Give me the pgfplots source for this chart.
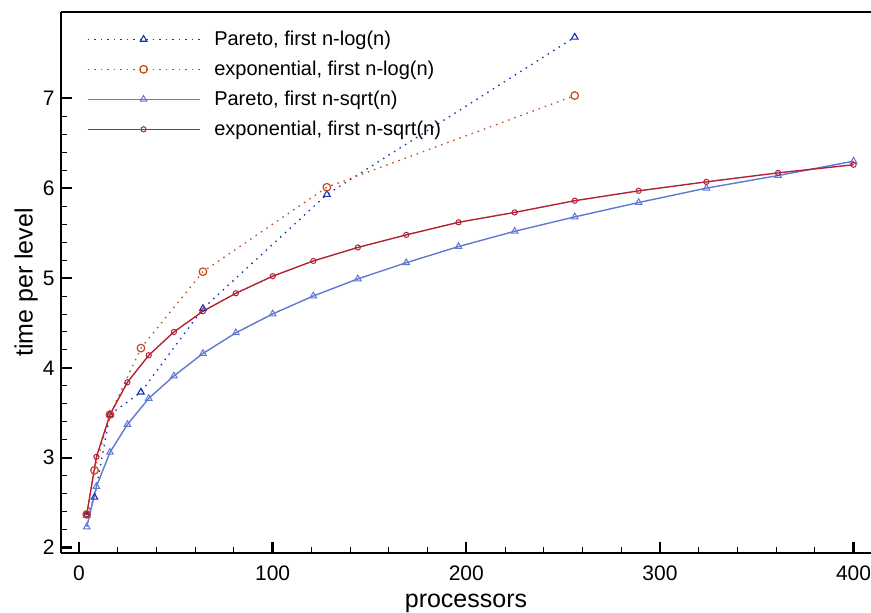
\documentclass[border=0pt]{standalone}
\usepackage{pgfplots}
\pgfplotsset{compat=1.18}
\usepackage{fontspec}
\setmainfont{Liberation Sans}
\definecolor{pdark}{RGB}{20,50,180}
\definecolor{eorange}{RGB}{200,70,30}
\definecolor{plight}{RGB}{95,120,212}
\definecolor{ered}{RGB}{178,34,52}
\begin{document}
\begin{tikzpicture}[x=1pt,y=1pt]
\begin{axis}[
  name=ax,
  at={(0,0)}, anchor=south west,
  scale only axis,
  width=810pt, height=541pt,
  xmin=-9.3, xmax=409, ymin=1.94, ymax=7.96,
  xtick={0,100,200,300,400},
  ytick={2,3,4,5,6,7},
  minor x tick num=4,
  minor y tick num=4,
  tick pos=left,
  tick align=inside,
  major tick length=11pt,
  minor tick length=6pt,
  every major tick/.style={line width=2.4pt, black},
  every minor tick/.style={line width=0.9pt, black},
  axis line style={line width=2.6pt},
  axis x line*=bottom,
  axis y line*=left,
  clip=false,
  /pgf/number format/assume math mode=true,
  ticklabel style={font=\fontsize{21}{23}\selectfont},
  xticklabel style={yshift=-9pt},
  yticklabel style={xshift=-3pt},
  xlabel={processors},
  ylabel={time per level},
  label style={font=\fontsize{25}{27}\selectfont},
  xlabel style={yshift=-7pt},
  ylabel style={yshift=-2pt},
  legend style={draw=none, fill=none, at={(0.028,0.972)}, anchor=north west,
    font=\fontsize{20}{22}\selectfont, row sep=10pt,
    /tikz/every odd column/.append style={column sep=12pt}},
  legend cell align=left,
  legend image code/.code={
    \draw[mark repeat=2,mark phase=2] plot coordinates {(0pt,0pt) (56pt,0pt) (112pt,0pt)};
  },
]
\addplot[pdark, line width=1.3pt, dash pattern=on 1.5pt off 5pt, mark=triangle, mark size=3.8pt, mark options={solid, line width=1.1pt}]
  coordinates {(4,2.36) (8,2.56) (16,3.48) (32,3.73) (64,4.66) (128,5.93) (256,7.68)};
\addlegendentry{Pareto, first n-log(n)}
\addplot[eorange, line width=1.3pt, dash pattern=on 1.5pt off 5pt, mark=o, mark size=3.8pt, mark options={solid, line width=1.2pt}]
  coordinates {(4,2.37) (8,2.86) (16,3.48) (32,4.22) (64,5.07) (128,6.01) (256,7.03)};
\addlegendentry{exponential, first n-log(n)}
\addplot[plight, solid, line width=1.4pt, mark=triangle, mark size=3.8pt, mark options={solid, line width=1pt}]
  coordinates {(4,2.23) (9,2.68) (16,3.06) (25,3.37) (36,3.66) (49,3.91) (64,4.16) (81,4.39) (100,4.60) (121,4.80) (144,4.99) (169,5.17) (196,5.35) (225,5.52) (256,5.68) (289,5.84) (324,6.00) (361,6.14) (400,6.30)};
\addlegendentry{Pareto, first n-sqrt(n)}
\addplot[ered, solid, line width=1.4pt, mark=o, mark size=2.6pt, mark options={solid, line width=1pt}]
  coordinates {(4,2.37) (9,3.01) (16,3.48) (25,3.84) (36,4.14) (49,4.40) (64,4.63) (81,4.83) (100,5.02) (121,5.19) (144,5.34) (169,5.48) (196,5.62) (225,5.73) (256,5.86) (289,5.97) (324,6.07) (361,6.17) (400,6.26)};
\addlegendentry{exponential, first n-sqrt(n)}
\draw[line width=2.6pt] (rel axis cs:0,1) -- (rel axis cs:1,1);
\end{axis}
\pgfresetboundingbox
\path[use as bounding box] ([xshift=-61pt,yshift=-60pt]ax.south west) rectangle ([yshift=12pt]ax.north east);
\end{tikzpicture}
\end{document}
